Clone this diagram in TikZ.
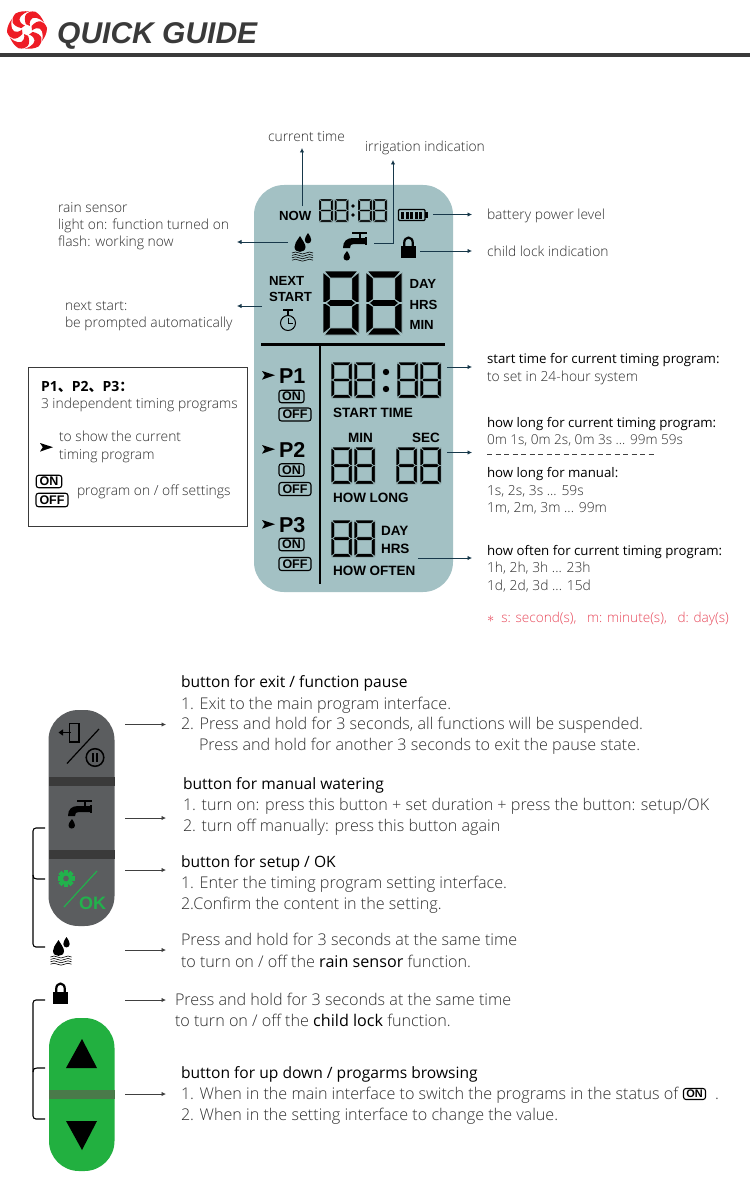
\documentclass[tikz,border=0pt]{standalone}
\usepackage{fontspec}
\setmainfont{Open Sans Light}[BoldFont={Open Sans},ItalicFont={Open Sans Light}]
\newfontfamily\arialf{Liberation Sans}
\newfontfamily\cjkf{Noto Sans CJK SC}
\newfontfamily\semif{Open Sans}
\usetikzlibrary{arrows.meta}
\definecolor{lcdbg}{HTML}{A3C1C4}
\definecolor{inkdark}{HTML}{3A3A3A}
\definecolor{txtg}{HTML}{2E2E2E}
\definecolor{arrowc}{HTML}{17384A}
\definecolor{btngray}{HTML}{5B5D5F}
\definecolor{btnstripe}{HTML}{3A3A3A}
\definecolor{btngreen}{HTML}{22B040}
\definecolor{greenstripe}{HTML}{4A7A4A}
\definecolor{okgreen}{HTML}{22B14C}
\definecolor{logored}{HTML}{EE1C25}
\definecolor{noteRed}{HTML}{E8485A}
\newcommand\fsz[1]{\fontsize{#1}{#1}\selectfont}
\tikzset{
 x=1pt,y=-1pt,
 tx/.style={anchor=base west,inner sep=0pt,outer sep=0pt,text=txtg},
 smalltxt/.style={tx,font=\fsz{13.85}},
 smalldark/.style={tx,text=black,font=\semif\fsz{13.25}},
 bigtxt/.style={tx,font=\fsz{16.15}},
 bigdark/.style={tx,text=black,font=\semif\fsz{15.6}},
 lcdtxt/.style={anchor=base west,inner sep=0pt,outer sep=0pt,text=black,font=\arialf\bfseries\fsz{13.2}},
 lcdsmall/.style={lcdtxt,font=\arialf\bfseries\fsz{13.5}},
 ptxt/.style={anchor=base west,inner sep=0pt,outer sep=0pt,text=black,font=\arialf\bfseries\fsz{21.5}},
 pilltag/.style={draw=black,line width=1.1pt,rounded corners=2.5pt,inner sep=0pt,text=black,font=\arialf\bfseries\fsz{12.5}},
 leader/.style={draw=arrowc,line width=0.8pt,-{Latex[length=4.5pt,width=4.5pt]}},
 btnleader/.style={draw=black!75,line width=0.8pt,-{Latex[length=4.5pt,width=4.5pt]}},
 brace/.style={draw=black,line width=1.1pt,rounded corners=3pt},
 faucetpic/.pic={
  \fill[black] (9,0) rectangle (24,2);
  \fill[black] (15.5,2) rectangle (17.5,6);
  \fill[black] (0,16) .. controls (0,9) and (4,6) .. (10,6) -- (22,6) -- (22,12) -- (11,12)
     .. controls (8,12) and (7,13) .. (7,16) -- cycle;
  \fill[black] (22,5) rectangle (24,13);
  \fill[black] (4,19) .. controls (1,23) and (0.5,24) .. (0.5,25.5) .. controls (0.5,29.5) and (7,29.5) .. (7,25.5)
     .. controls (7,24) and (6,22) .. (4,19) -- cycle;
 },
 dropspic/.pic={
  \fill[black] (8,3) .. controls (4,9) and (2.5,11) .. (2.5,14) .. controls (2.5,20.5) and (13.5,20.5) .. (13.5,14)
     .. controls (13.5,11) and (11,8) .. (8,3) -- cycle;
  \fill[black] (16,0) .. controls (14,3) and (12.8,5) .. (12.8,7) .. controls (12.8,11.5) and (19.2,11.5) .. (19.2,7)
     .. controls (19.2,5) and (18,3) .. (16,0) -- cycle;
  \foreach \yy in {20,22.4,24.8,27.2}{
   \draw[black,line width=0.6pt] (0,\yy) .. controls (3,\yy-1.3) and (4,\yy-1.3) .. (7,\yy)
     .. controls (10,\yy+1.3) and (11,\yy+1.3) .. (14,\yy) .. controls (17,\yy-1.3) and (18,\yy-1.3) .. (21,\yy);
  }
 },
 lockpic/.pic={
  \draw[black,line width=2.2pt] (3.2,10) -- (3.2,6) .. controls (3.2,-1.2) and (11.8,-1.2) .. (11.8,6) -- (11.8,10);
  \fill[black] (0,9) rectangle (15,20.5);
 },
 arrowpic/.pic={
  \fill[black] (0,0) -- (13,4.2) -- (0,8.6) -- (2.8,4.2) -- cycle;
 },
}
% seven-segment digit: x, y, width, height, gap line width, segment thickness (units of a 10 x 18 cell)
\newcommand\lcdd[6]{\begin{scope}[shift={(#1,#2)},xscale=#3/10,yscale=#4/18,line width=#5,line join=round,draw=lcdbg,fill=black]
 \filldraw (0.3,0) -- (9.7,0) -- (10-#6,#6) -- (#6,#6) -- cycle;
 \filldraw (0.3,18) -- (9.7,18) -- (10-#6,18-#6) -- (#6,18-#6) -- cycle;
 \filldraw (0.9,9) -- (#6,9-#6/2) -- (10-#6,9-#6/2) -- (9.1,9) -- (10-#6,9+#6/2) -- (#6,9+#6/2) -- cycle;
 \filldraw (0,0.3) -- (#6,#6) -- (#6,9-#6/2) -- (0.7,8.9) -- (0,8.9) -- cycle;
 \filldraw (10,0.3) -- (10-#6,#6) -- (10-#6,9-#6/2) -- (9.3,8.9) -- (10,8.9) -- cycle;
 \filldraw (0,17.7) -- (#6,18-#6) -- (#6,9+#6/2) -- (0.7,9.1) -- (0,9.1) -- cycle;
 \filldraw (10,17.7) -- (10-#6,18-#6) -- (10-#6,9+#6/2) -- (9.3,9.1) -- (10,9.1) -- cycle;
\end{scope}}
\begin{document}
\begin{tikzpicture}
\useasboundingbox (0,0) rectangle (750,1193);
\fill[white] (0,0) rectangle (750,1193);
% header
\begin{scope}[shift={(27,30)}]
 \foreach \a in {0,60,...,300}{
  \fill[logored,rotate=\a] (4.5,-4) .. controls (11,-11) and (17,-10) .. (20,-2)
    .. controls (20,3) and (18,7) .. (15,11) .. controls (17,4) and (15,-3) .. (9.5,-1.8) .. controls (7.5,-1.4) and (6,-0.5) .. (5,0.5) -- cycle;
 }
\end{scope}
\node[anchor=base west,inner sep=0pt,text=inkdark,font=\arialf\bfseries\itshape\fsz{30}] (title) at (57,43.5) {QUICK GUIDE};
\fill[inkdark] (0,53) rectangle (750,57);
% LCD panel
\fill[lcdbg,rounded corners=30pt] (254,185) rectangle (453,592);
\fill[black] (261,343) rectangle (445,345.5);
\fill[black] (319.2,345) rectangle (321.2,584);
% top row
\node[lcdtxt] (now) at (279,220) {NOW};
\lcdd{319}{199}{14}{23}{0.35pt}{1.7}\lcdd{334.5}{199}{14}{23}{0.35pt}{1.7}
\fill[black] (353,206) circle (1.9pt) (353,215) circle (1.9pt);
\lcdd{358}{199}{14}{23}{0.35pt}{1.7}\lcdd{373}{199}{14}{23}{0.35pt}{1.7}
% battery
\draw[black,line width=1.3pt,rounded corners=1pt] (398.5,209.5) rectangle (425,220.5);
\fill[black] (425,212) rectangle (428,218);
\foreach \xx in {401,405.5,410,414.5,419}{\fill[black] (\xx,211.5) rectangle (\xx+3,218.5);}
\pic (panelDrops) at (292,233) {dropspic};
\pic (panelFaucet) at (343,232) {faucetpic};
\pic (panelLock) at (401,237) {lockpic};
% next start
\node[lcdtxt] (next) at (269,285.5) {NEXT};
\node[lcdtxt] (start) at (269,301.5) {START};
\draw[black,line width=1pt] (288,323) circle (7.5pt);
\draw[black,line width=1.4pt] (283,310) -- (293,310);
\draw[black,line width=1.4pt] (288,310) -- (288,315);
\draw[black,line width=0.8pt] (288,318) -- (288,323.5) -- (292.5,323.5);
% big digits
\lcdd{323}{271}{36}{64}{0.8pt}{2}\lcdd{366}{271}{36}{64}{0.8pt}{2}
\node[lcdtxt] (bday) at (409.5,288.5) {DAY};
\node[lcdtxt] (bhrs) at (409.5,309) {HRS};
\node[lcdtxt] (bmin) at (409.5,329) {MIN};
% programs
\pic (arrP1) at (262,371) {arrowpic};
\node[ptxt] (p1) at (279,383) {P1};
\node[pilltag,minimum width=25pt,minimum height=12.5pt] (on1) at (291.5,396.5) {ON};
\node[pilltag,minimum width=32pt,minimum height=13pt] (off1) at (295,414.5) {OFF};
\pic (arrP2) at (262,445) {arrowpic};
\node[ptxt] (p2) at (279,457) {P2};
\node[pilltag,minimum width=25pt,minimum height=12.5pt] (on2) at (291.5,470) {ON};
\node[pilltag,minimum width=32pt,minimum height=13pt] (off2) at (295,489) {OFF};
\pic (arrP3) at (262,520) {arrowpic};
\node[ptxt] (p3) at (279,532) {P3};
\node[pilltag,minimum width=25pt,minimum height=12.5pt] (on3) at (291.5,544.5) {ON};
\node[pilltag,minimum width=32pt,minimum height=13pt] (off3) at (295,564) {OFF};
% start time
\lcdd{331}{362}{21}{36}{0.5pt}{1.7}\lcdd{354}{362}{21}{36}{0.5pt}{1.7}
\fill[black] (386,372) circle (3.2pt) (386,389) circle (3.2pt);
\lcdd{397}{362}{21}{36}{0.5pt}{1.7}\lcdd{420}{362}{21}{36}{0.5pt}{1.7}
\node[lcdsmall] (starttime) at (333,417) {START TIME};
% how long
\node[lcdsmall] (hmin) at (348,442) {MIN};
\node[lcdsmall] (hsec) at (412,442) {SEC};
\lcdd{331}{447}{21}{37}{0.5pt}{1.7}\lcdd{354}{447}{21}{37}{0.5pt}{1.7}
\lcdd{396}{447}{21}{37}{0.5pt}{1.7}\lcdd{420}{447}{21}{37}{0.5pt}{1.7}
\node[lcdsmall] (howlong) at (333,502) {HOW LONG};
% how often
\lcdd{331}{520}{21}{37}{0.5pt}{1.7}\lcdd{354}{520}{21}{37}{0.5pt}{1.7}
\node[lcdsmall] (oday) at (381,535) {DAY};
\node[lcdsmall] (ohrs) at (381,553) {HRS};
\node[lcdsmall] (howoften) at (333,575) {HOW OFTEN};
% labels top
\node[smalltxt] (lcur) at (268,142) {current time};
\node[smalltxt] (lirr) at (365,152) {irrigation indication};
\node[smalltxt] (lbat) at (487,219) {battery power level};
\node[smalltxt] (llock) at (487,256) {child lock indication};
\node[smalltxt] (lr1) at (58,212) {rain sensor};
\node[smalltxt] (lr2) at (58,229) {light on: function turned on};
\node[smalltxt] (lr3) at (58,246) {flash: working now};
\node[smalltxt] (ln1) at (65,310) {next start:};
\node[smalltxt] (ln2) at (65,327) {be prompted automatically};
% connectors panel
\coordinate (curA) at (302,206); \coordinate (curB) at (302,148);
\draw[leader] (curA) -- (curB);
\coordinate (irrA) at (374,243); \coordinate (irrM) at (393,243); \coordinate (irrB) at (393,160);
\draw[leader] (irrA) -- (irrM) -- (irrB);
\coordinate (batA) at (433,214.5); \coordinate (batB) at (472,214.5);
\draw[leader] (batA) -- (batB);
\coordinate (lockA) at (420,251); \coordinate (lockB) at (472,251);
\draw[leader] (lockA) -- (lockB);
\coordinate (rainA) at (288,242); \coordinate (rainB) at (237,242);
\draw[leader] (rainA) -- (rainB);
\coordinate (nextA) at (262,306); \coordinate (nextB) at (237,306);
\draw[leader] (nextA) -- (nextB);
\coordinate (stA) at (447,367); \coordinate (stB) at (472,367);
\draw[leader] (stA) -- (stB);
\coordinate (hlA) at (447,452.5); \coordinate (hlB) at (472,452.5);
\draw[leader] (hlA) -- (hlB);
\coordinate (hoA) at (418,558); \coordinate (hoB) at (472,558);
\draw[leader] (hoA) -- (hoB);
% legend box
\draw[inkdark,line width=1pt] (28,367) rectangle (247,526.5);
\node[tx,text=black,font=\semif\bfseries\fsz{14}] (lg1) at (41,391) {P1{\cjkf 、}P2{\cjkf 、}P3{\cjkf ：}};
\node[smalltxt] (lg2) at (41,408) {3 independent timing programs};
\pic (lgArrow) at (40,443) {arrowpic};
\node[smalltxt] (lg3) at (59,441.5) {to show the current};
\node[smalltxt] (lg4) at (59,459) {timing program};
\node[pilltag,minimum width=25.5pt,minimum height=12.5pt] (lgon) at (49,481.5) {ON};
\node[pilltag,minimum width=32pt,minimum height=13.5pt] (lgoff) at (52,500) {OFF};
\node[smalltxt] (lg5) at (77,495.5) {program on / off settings};
% right column
\node[smalldark] (r1) at (487,363) {start time for current timing program:};
\node[smalltxt] (r2) at (487,381) {to set in 24-hour system};
\node[smalldark] (r3) at (487,427) {how long for current timing program:};
\node[smalltxt,font=\fsz{13.6}] (r4) at (487,444) {0m 1s, 0m 2s, 0m 3s ... 99m 59s};
\coordinate (dashA) at (487,454.5); \coordinate (dashB) at (656,454.5);
\draw[black!75,line width=0.7pt,dash pattern=on 5pt off 3.5pt] (dashA) -- (dashB);
\node[smalldark] (r5) at (487,477) {how long for manual:};
\node[smalltxt] (r6) at (487,495) {1s, 2s, 3s ... 59s};
\node[smalltxt] (r7) at (487,512) {1m, 2m, 3m ... 99m};
\node[smalldark] (r8) at (487,555) {how often for current timing program:};
\node[smalltxt] (r9) at (487,572) {1h, 2h, 3h ... 23h};
\node[smalltxt] (r10) at (487,590) {1d, 2d, 3d ... 15d};
\node[smalltxt,font=\fsz{13.6},text=noteRed] (r11) at (487,622) {$*$\ \ s: second(s),\ \ \ m: minute(s),\ \ \ d: day(s)};
% gray buttons
\fill[btngray,rounded corners=30pt] (48.5,710) rectangle (114.5,926);
\fill[btnstripe] (48.5,777) rectangle (114.5,785.5);
\fill[btnstripe] (48.5,850) rectangle (114.5,859);
% exit icon
\draw[black,line width=1.4pt] (69.5,723.5) rectangle (79,742);
\draw[black,line width=1.8pt,-{Triangle[length=4.5pt,width=6pt]}] (71,732.5) -- (58.5,732.5);
\draw[black,line width=1.2pt] (67,763.5) -- (99,729);
\draw[black,line width=1.5pt] (95,757.5) circle (8.8pt);
\fill[black] (91.7,753) rectangle (93.7,762);
\fill[black] (96.3,753) rectangle (98.3,762);
\begin{scope}[shift={(68,800)},scale=1.12]
 \pic (btnFaucet) at (0,0) {faucetpic};
\end{scope}
% setup icon
\begin{scope}[shift={(66,878.5)}]
 \foreach \a in {0,45,...,315}{\fill[okgreen,rotate=\a] (-2.2,-8.5) rectangle (2.2,-4);}
 \fill[okgreen] (0,0) circle (6.2pt);
 \fill[btngray] (0,0) circle (2.8pt);
\end{scope}
\draw[okgreen,line width=1.2pt] (64,907) -- (97,871);
\node[anchor=base west,inner sep=0pt,text=okgreen,font=\arialf\bfseries\fsz{18}] (ok) at (79,909) {OK};
\pic (btnDrops) at (50.5,937) {dropspic};
\begin{scope}[shift={(53,983)},scale=1.2]
 \pic (btnLock) at (0,0) {lockpic};
\end{scope}
% green button
\fill[btngreen,rounded corners=30pt] (49,1018) rectangle (114.5,1171);
\fill[greenstripe] (49,1090) rectangle (114.5,1099);
\fill[black] (82,1039) -- (66,1068) -- (97,1068) -- cycle;
\fill[black] (82,1150) -- (66,1121) -- (97,1121) -- cycle;
% brackets
\coordinate (b1a) at (45,828); \coordinate (b1b) at (33,828); \coordinate (b1c) at (33,947); \coordinate (b1d) at (45,947);
\coordinate (b1m) at (45,879); \coordinate (b1n) at (33,875);
\draw[brace] (b1a) -- (b1b) -- (b1c) -- (b1d);
\draw[draw=black,line width=1.1pt] (b1n) .. controls (33,878) and (34,879) .. (37,879) -- (b1m);
\coordinate (b2a) at (45,1000); \coordinate (b2b) at (33,1000); \coordinate (b2c) at (33,1119); \coordinate (b2d) at (45,1119);
\coordinate (b2m) at (45,1068); \coordinate (b2n) at (33,1072);
\draw[brace] (b2a) -- (b2b) -- (b2c) -- (b2d);
\draw[draw=black,line width=1.1pt] (b2n) .. controls (33,1069) and (34,1068) .. (37,1068) -- (b2m);
% button leaders
\coordinate (ba1) at (125,724.5); \coordinate (bb1) at (166,724.5); \draw[btnleader] (ba1) -- (bb1);
\coordinate (ba2) at (125,818); \coordinate (bb2) at (166,818); \draw[btnleader] (ba2) -- (bb2);
\coordinate (ba3) at (125,870); \coordinate (bb3) at (166,870); \draw[btnleader] (ba3) -- (bb3);
\coordinate (ba4) at (125,950); \coordinate (bb4) at (166,950); \draw[btnleader] (ba4) -- (bb4);
\coordinate (ba5) at (125,1000); \coordinate (bb5) at (166,1000); \draw[btnleader] (ba5) -- (bb5);
\coordinate (ba6) at (125,1094); \coordinate (bb6) at (166,1094); \draw[btnleader] (ba6) -- (bb6);
% button texts
\node[bigdark] (e0) at (181,687) {button for exit / function pause};
\node[bigtxt] (e1) at (181,709) {1. Exit to the main program interface.};
\node[bigtxt] (e2) at (181,729) {2. Press and hold for 3 seconds, all functions will be suspended.};
\node[bigtxt] (e3) at (199,750) {Press and hold for another 3 seconds to exit the pause state.};
\node[bigdark] (m0) at (183,789) {button for manual watering};
\node[bigtxt] (m1) at (183,810) {1. turn on: press this button + set duration + press the button: setup/OK};
\node[bigtxt] (m2) at (183,831) {2. turn off manually: press this button again};
\node[bigdark] (s0) at (181,867) {button for setup / OK};
\node[bigtxt] (s1) at (181,888) {1. Enter the timing program setting interface.};
\node[bigtxt] (s2) at (181,909) {2.Confirm the content in the setting.};
\node[bigtxt] (w1) at (181,945) {Press and hold for 3 seconds at the same time};
\node[bigtxt] (w2) at (181,967) {to turn on / off the {\semif\color{black}rain sensor} function.};
\node[bigtxt] (c1) at (175,1005) {Press and hold for 3 seconds at the same time};
\node[bigtxt] (c2) at (175,1026) {to turn on / off the {\semif\color{black}child lock} function.};
\node[bigdark] (u0) at (181,1078) {button for up down / progarms browsing};
\node[bigtxt] (u1) at (181,1099) {1. When in the main interface to switch the programs in the status of};
\node[pilltag,minimum width=22pt,minimum height=11pt,font=\arialf\bfseries\fsz{11}] (uon) at (694.5,1094) {ON};
\node[bigtxt] (u1b) at (715,1099) {.};
\node[bigtxt] (u2) at (181,1120) {2. When in the setting interface to change the value.};
\end{tikzpicture}
\end{document}
